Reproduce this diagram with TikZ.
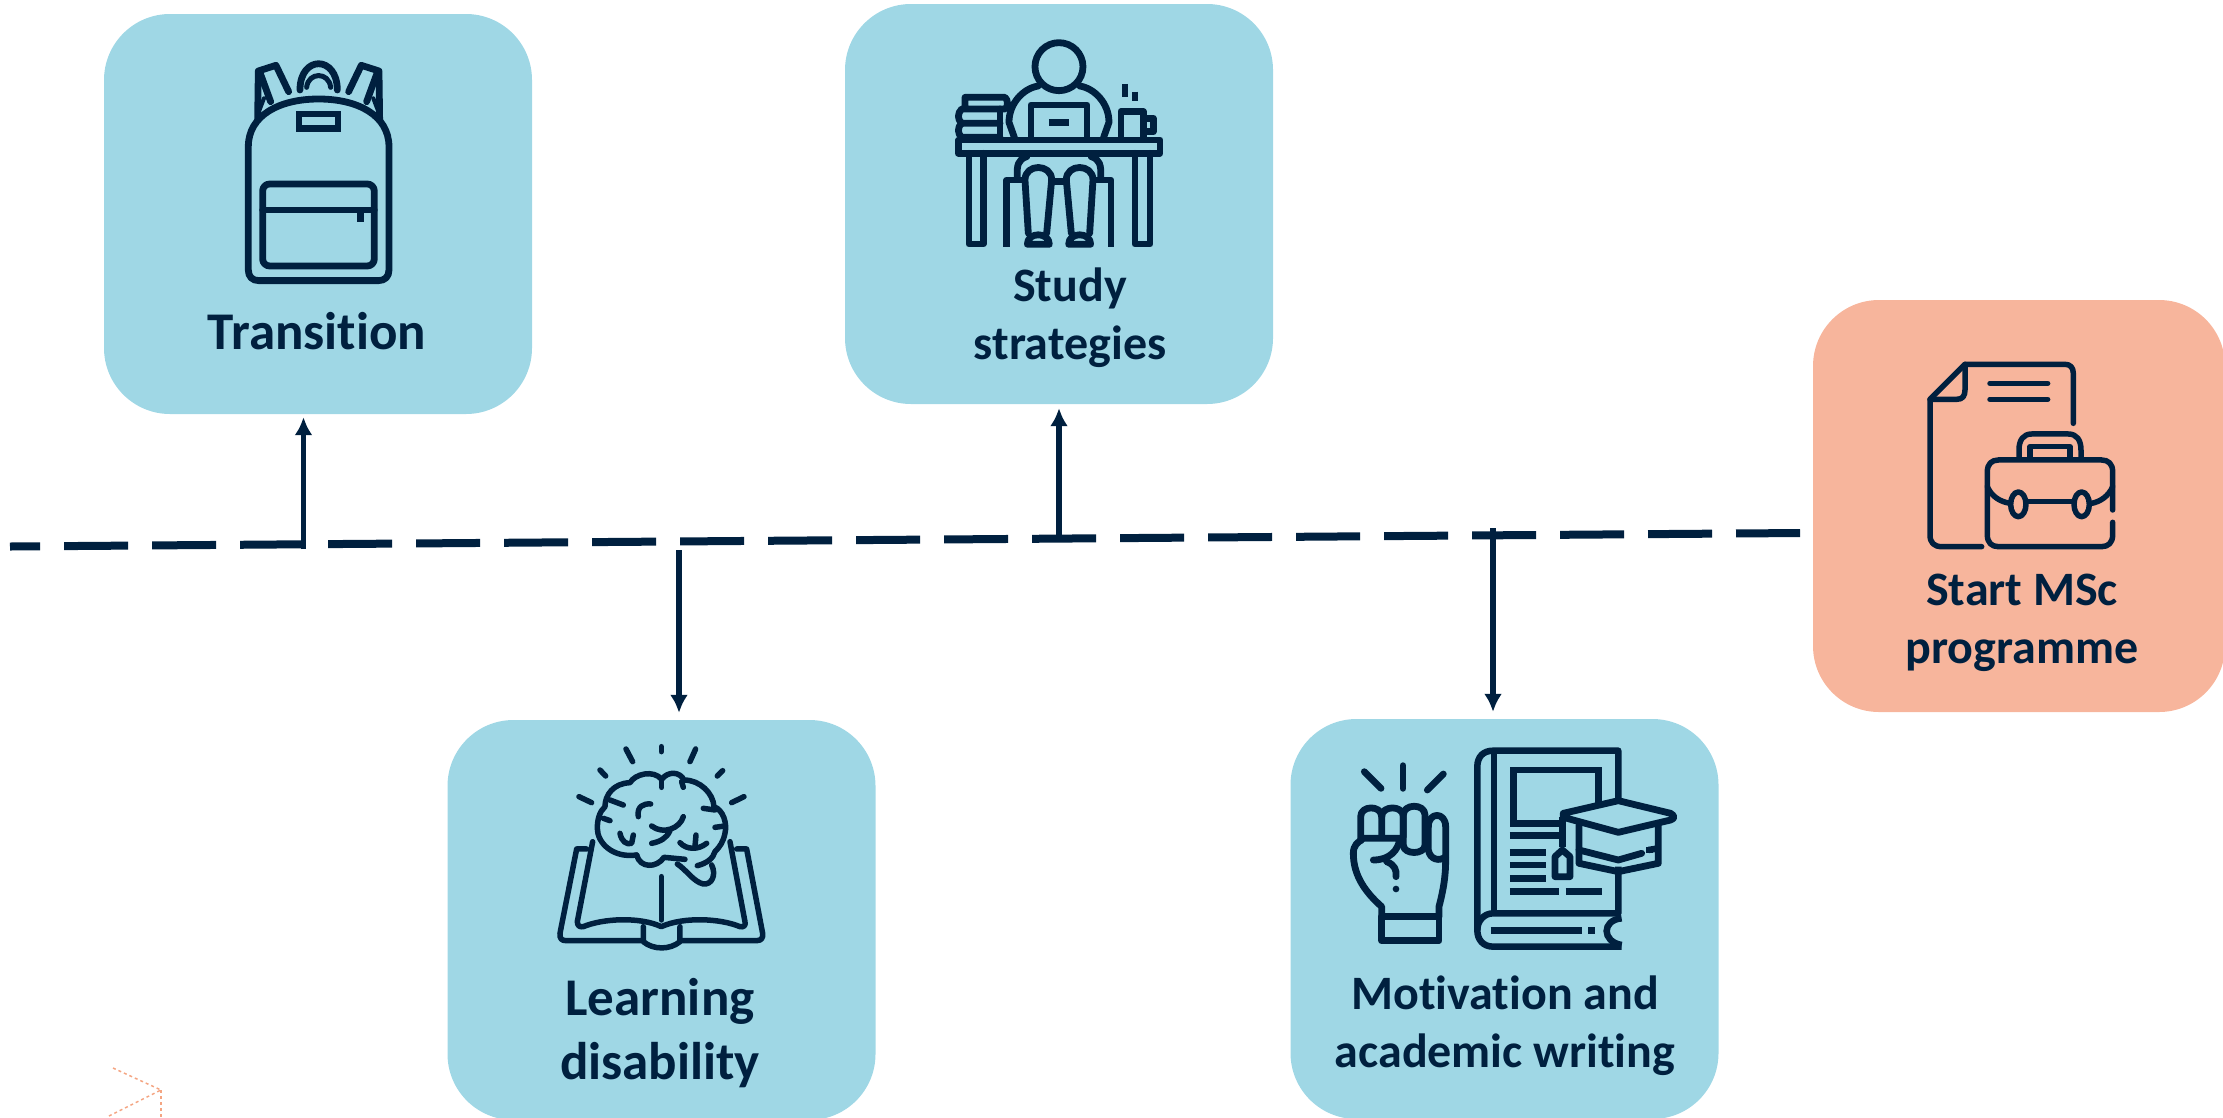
\documentclass[tikz,border=0pt]{standalone}
\usepackage{fontspec}
\setmainfont{Carlito}[Ligatures=NoCommon]
\usepackage{xcolor}
\usetikzlibrary{arrows.meta}
\definecolor{cardblue}{HTML}{9FD7E5}
\definecolor{cardorange}{HTML}{F7B59C}
\definecolor{inknavy}{HTML}{00203F}
\definecolor{traceorange}{HTML}{F4A582}
\tikzset{
  card/.style={draw=none, fill=cardblue, rectangle, rounded corners=66pt, minimum width=428pt, minimum height=400pt, inner sep=0pt},
  cardlabel/.style={text=inknavy, font=\fontsize{48}{58}\selectfont\bfseries, align=center, inner sep=0pt},
  timeline/.style={draw=inknavy, line width=8pt, dash pattern=on 64pt off 24pt},
  link/.style={draw=inknavy, line width=5.5pt, -{Latex[length=18pt,width=18pt]}},
  iconline/.style={draw=inknavy, line width=6.8pt, line join=round, line cap=round},
  iconfine/.style={iconline, line width=5.5pt},
  iconbar/.style={draw=inknavy, line width=6.5pt, line cap=butt},
  trace/.style={draw=traceorange, line width=1.5pt, dashed}
}
\begin{document}
\begin{tikzpicture}[x=1pt, y=-1pt]
        \useasboundingbox (0,0) rectangle (2223,1117);

        % Cards
        \node[card] (transition) at (318,214) {};
        \node[card] (study) at (1059,204) {};
        \node[card, fill=cardorange, minimum width=412pt, minimum height=412pt] (start) at (2019,506) {};
        \node[card] (learning) at (661.5,920) {};
        \node[card] (motivation) at (1504.5,919) {};

        % Labels
        \node[cardlabel, font=\fontsize{53}{58}\selectfont\bfseries] (transitionlabel) at (317,331) {Transition};
        \node[cardlabel] (studylabel) at (1070,318) {Study\\strategies};
        \node[cardlabel] (startlabel) at (2022,623) {Start MSc\\programme};
        \node[cardlabel, font=\fontsize{53}{64}\selectfont\bfseries] (learninglabel) at (660,1033) {Learning\\disability};
        \node[cardlabel] (motivationlabel) at (1505,1026) {Motivation and\\academic writing};

        % Timeline
        \coordinate (tlright) at (1800,533);
        \coordinate (tlleft) at (10,546.5);
        \draw[timeline] (tlright) -- (tlleft);

        % Arrows
        \coordinate (tlA) at (303.5,549);
        \coordinate (tlB) at (679,550);
        \coordinate (tlC) at (1059,538);
        \coordinate (tlD) at (1493,528);
        \draw[link, shorten >=3pt] (tlA) -- (tlA |- transition.south);
        \draw[link, shorten >=4pt] (tlC) -- (tlC |- study.south);
        \draw[link, shorten >=7pt] (tlB) -- (tlB |- learning.north);
        \draw[link, shorten >=7pt] (tlD) -- (tlD |- motivation.north);

        % Backpack
        \begin{scope}[shift={(90,0)}, x=0.3333pt, y=-0.3333pt]
          \draw[iconline] (475,440) .. controls (475,345) and (570,297) .. (686,297) .. controls (802,297) and (897,345) .. (897,440) -- (897,810) .. controls (897,830) and (885,842) .. (865,842) -- (507,842) .. controls (487,842) and (475,830) .. (475,810) -- cycle;
          \draw[iconline, rounded corners=7pt] (518,552) rectangle (853,798);
          \draw[iconline] (518,630) -- (853,630);
          \draw[iconbar] (811,630) -- (811,667);
          \draw[iconbar] (627,342) rectangle (744,385);
          \draw[iconline] (630,270) .. controls (630,165) and (742,165) .. (742,270);
          \draw[iconline, line width=5pt] (650,262) .. controls (655,215) and (717,215) .. (722,262);
          \draw[iconline] (503,360) -- (505,213) -- (558,196) -- (596,275);
          \draw[iconline] (509,215) -- (542,305);
          \draw[iconline, line width=4pt] (503,345) -- (522,295);
          \draw[iconline] (869,360) -- (867,213) -- (814,196) -- (776,275);
          \draw[iconline] (863,215) -- (830,305);
          \draw[iconline, line width=4pt] (869,345) -- (850,295);
        \end{scope}

        % Desk
        \begin{scope}[shift={(830,0)}, x=0.3333pt, y=-0.3333pt]
          \draw[iconline] (687,200) circle (72);
          \draw[iconline] (553,412) -- (537,367) .. controls (537,310) and (580,265) .. (625,258);
          \draw[iconline] (821,412) -- (837,367) .. controls (837,310) and (794,265) .. (749,258);
          \draw[iconline] (603,412) -- (603,315) -- (771,315) -- (771,412);
          \draw[iconbar] (657,367) -- (717,367);
          \draw[iconline] (385,420) rectangle (990,460);
          \draw[iconline] (417,460) -- (417,732) -- (460,732) -- (460,460);
          \draw[iconline] (915,460) -- (915,732) -- (960,732) -- (960,460);
          \draw[iconbar, line join=round] (530,740) -- (530,540) -- (577,540);
          \draw[iconbar, line join=round] (843,740) -- (843,540) -- (797,540);
          \draw[iconline] (562,530) .. controls (560,495) and (565,478) .. (590,470);
          \draw[iconline] (812,530) .. controls (814,495) and (809,478) .. (784,470);
          \draw[iconline] (595,700) -- (585,540) .. controls (585,490) and (665,490) .. (665,540) -- (650,700);
          \draw[iconline] (779,700) -- (789,540) .. controls (789,490) and (709,490) .. (709,540) -- (724,700);
          \draw[iconline] (665,545) -- (709,545);
          \draw[iconline] (592,733) .. controls (592,695) and (658,695) .. (658,733) -- cycle;
          \draw[iconline] (716,733) .. controls (716,695) and (782,695) .. (782,733) -- cycle;
          \draw[iconline] (405,327) -- (405,292) -- (525,292) .. controls (535,300) and (535,320) .. (525,327) -- (395,327) .. controls (382,340) and (382,358) .. (395,370) -- (510,370);
          \draw[iconline] (395,370) .. controls (382,380) and (382,402) .. (395,412) -- (510,412);
          \draw[iconline] (510,327) -- (510,412);
          \draw[iconline] (873,412) -- (873,335) -- (940,335) -- (940,412);
          \draw[iconline] (945,355) -- (970,355) -- (970,395) -- (945,395);
          \draw[iconbar] (885,252) -- (885,292);
          \draw[iconbar] (915,275) -- (915,302);
        \end{scope}

        % Document and briefcase
        \begin{scope}[shift={(1800,290)}, x=0.3333pt, y=-0.3333pt]
          \draw[iconfine] (820,400) -- (820,250) .. controls (820,232) and (810,223) .. (795,223) -- (495,223) -- (390,328) -- (390,735) .. controls (390,758) and (402,770) .. (425,770) -- (545,770);
          \draw[iconfine] (495,223) -- (495,300) .. controls (495,318) and (488,328) .. (470,328) -- (390,328);
          \draw[iconfine] (570,280) -- (743,280);
          \draw[iconfine] (570,328) -- (743,328);
          \draw[iconfine] (938,660) -- (938,545) .. controls (938,522) and (925,510) .. (905,510) -- (595,510) .. controls (575,510) and (562,522) .. (562,545) -- (562,735) .. controls (562,758) and (575,770) .. (595,770) -- (905,770) .. controls (925,770) and (938,758) .. (938,735) -- (938,697);
          \draw[iconfine] (657,505) -- (657,480) .. controls (657,450) and (670,432) .. (695,432) -- (805,432) .. controls (830,432) and (843,450) .. (843,480) -- (843,505);
          \draw[iconfine] (690,505) -- (690,470) -- (810,470) -- (810,505);
          \draw[iconfine] (562,590) .. controls (575,620) and (600,635) .. (630,640);
          \draw[iconfine] (938,590) .. controls (925,620) and (900,635) .. (875,640);
          \draw[iconfine] (685,635) -- (815,635);
          \draw[iconfine] (655,643) ellipse (23 and 37);
          \draw[iconfine] (845,643) ellipse (23 and 37);
        \end{scope}

        % Brain and book
        \begin{scope}[shift={(440,700)}, x=0.3333pt, y=-0.3333pt]
          \draw[iconfine] (558,147) -- (578,185);
          \draw[iconfine] (664,140) -- (664,155);
          \draw[iconfine] (767,147) -- (750,185);
          \draw[iconfine] (480,210) -- (497,228);
          \draw[iconfine] (848,212) -- (832,228);
          \draw[iconfine] (417,290) -- (455,308);
          \draw[iconfine] (912,290) -- (875,308);
          \draw[iconfine] (590,465) .. controls (520,475) and (472,430) .. (472,385) .. controls (472,360) and (478,335) .. (495,320) .. controls (495,285) and (520,250) .. (570,248) .. controls (585,222) and (640,208) .. (665,238) .. controls (685,212) and (720,215) .. (732,240) .. controls (780,240) and (820,280) .. (822,320) .. controls (850,330) and (862,370) .. (855,400) .. controls (850,425) and (840,440) .. (825,455) .. controls (820,475) and (800,490) .. (772,497);
          \draw[iconfine] (590,465) .. controls (600,505) and (650,505) .. (672,472) -- (735,478);
          \draw[iconfine] (712,492) .. controls (740,510) and (760,545) .. (790,552) .. controls (815,555) and (830,525) .. (815,495);
          \draw[iconfine] (510,300) -- (550,315);
          \draw[iconfine] (665,238) -- (665,262);
          \draw[iconfine] (725,245) -- (730,262);
          \draw[iconfine] (790,325) -- (825,330);
          \draw[iconfine] (825,382) -- (855,378);
          \draw[iconfine] (490,355) -- (510,362);
          \draw[iconfine] (595,350) .. controls (590,320) and (610,310) .. (632,312);
          \draw[iconfine] (635,378) .. controls (670,405) and (720,385) .. (730,350);
          \draw[iconfine] (635,430) .. controls (660,425) and (680,415) .. (690,392);
          \draw[iconfine] (540,400) .. controls (545,425) and (560,435) .. (575,430) -- (580,405);
          \draw[iconfine] (720,428) .. controls (740,450) and (775,450) .. (800,430);
          \draw[iconfine] (768,405) -- (765,440);
          \draw[iconfine] (664,530) -- (664,660);
          \draw[iconfine] (458,425) -- (412,665) .. controls (412,678) and (420,682) .. (430,680) .. controls (490,655) and (600,650) .. (664,680) .. controls (730,650) and (840,655) .. (900,680) .. controls (910,682) and (918,678) .. (915,665) -- (870,425);
          \draw[iconfine] (440,447) -- (410,447) -- (360,700) .. controls (358,715) and (365,722) .. (378,722) -- (610,722);
          \draw[iconfine] (890,447) -- (920,447) -- (968,700) .. controls (970,715) and (963,722) .. (950,722) -- (720,722);
          \draw[iconfine] (610,680) -- (610,725) .. controls (640,750) and (690,750) .. (720,725) -- (720,680);
        \end{scope}

        % Fist and book
        \begin{scope}[shift={(1280,700)}, x=0.3333pt, y=-0.3333pt]
          \draw[iconline] (253,215) -- (303,265);
          \draw[iconline] (369,197) -- (369,265);
          \draw[iconline] (490,222) -- (442,270);
          \draw[iconline] (305,650) -- (305,722) -- (477,722) -- (477,650) -- cycle;
          \draw[iconline] (305,650) -- (305,620) .. controls (260,580) and (220,530) .. (220,460) .. controls (220,435) and (235,425) .. (245,420);
          \draw[iconline] (477,650) -- (477,620) .. controls (490,570) and (497,530) .. (497,480) -- (497,380) .. controls (497,335) and (445,335) .. (445,380);
          \draw[iconline] (242,415) -- (242,350) .. controls (242,315) and (305,315) .. (305,350) -- (305,410);
          \draw[iconline] (305,350) .. controls (305,315) and (370,315) .. (370,350) -- (370,410);
          \draw[iconline] (370,345) .. controls (370,310) and (435,310) .. (435,345) -- (435,435) .. controls (435,465) and (370,465) .. (370,435) -- (370,350);
          \draw[iconline] (445,380) -- (445,450) .. controls (450,480) and (480,485) .. (497,470);
          \draw[iconline] (245,415) -- (360,415) .. controls (355,450) and (330,480) .. (280,480);
          \draw[iconline] (320,485) .. controls (345,495) and (350,510) .. (348,530);
          \fill[inknavy] (348,567) circle (10);
          \draw[iconbar, line join=round] (1015,300) -- (1015,152) -- (640,152) .. controls (610,152) and (592,170) .. (592,200) -- (592,690) .. controls (592,720) and (610,740) .. (640,740) -- (1025,740);
          \draw[iconbar] (642,155) -- (642,640);
          \draw[iconbar, line join=round] (1015,500) -- (1015,640) -- (640,640) .. controls (610,640) and (592,665) .. (592,690);
          \draw[iconbar] (1025,655) .. controls (965,660) and (965,725) .. (1025,735);
          \draw[iconbar] (632,692) -- (905,692);
          \draw[iconbar] (925,692) -- (945,692);
          \draw[iconbar] (955,310) -- (955,210) -- (700,210) -- (700,370) -- (840,370);
          \foreach \linea/\lineb/\linec in {690/840/407, 690/798/457, 690/798/495, 690/798/535, 690/838/574, 857/965/574}{
            \draw[iconbar] (\linea,\linec) -- (\lineb,\linec);
          }
          \draw[iconline] (850,340) -- (1015,302) -- (1172,340) .. controls (1185,348) and (1185,355) .. (1172,360) -- (1015,397) -- (850,352) -- cycle;
          \draw[iconline] (897,375) -- (897,490) -- (1015,515) -- (1135,490) -- (1135,375);
          \draw[iconline] (897,450) -- (1015,480) -- (1085,460);
          \draw[iconbar] (1105,450) -- (1135,445);
          \draw[iconbar] (1108,440) -- (1108,460);
          \draw[iconbar] (847,350) -- (847,440);
          \draw[iconline] (825,530) -- (825,470) -- (847,450) -- (870,470) -- (870,530) -- cycle;
        \end{scope}

        % Faint trace at the bottom
        \coordinate (traceA) at (113,1068);
        \coordinate (traceB) at (161,1090);
        \coordinate (traceC) at (107,1117);
        \coordinate (traceD) at (161,1117);
        \draw[trace] (traceA) -- (traceB) -- (traceC);
        \draw[trace] (traceB) -- (traceD);
    \end{tikzpicture}
\end{document}
